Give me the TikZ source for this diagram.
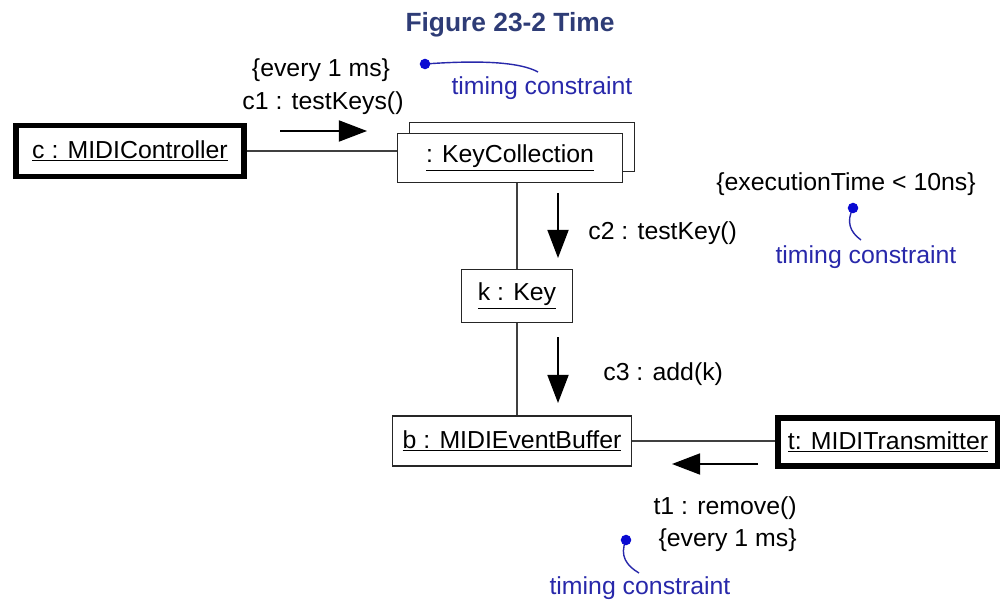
\documentclass[tikz,border=0pt]{standalone}
\usepackage{fontspec}
\setsansfont{Liberation Sans}[FakeStretch=1.01]
\newfontfamily\titlefont{Liberation Sans}
\usetikzlibrary{arrows.meta, positioning}
\definecolor{titleblue}{RGB}{46,60,118}
\definecolor{noteblue}{RGB}{40,40,170}
\definecolor{dotblue}{RGB}{10,10,210}

\begin{document}
\begin{tikzpicture}[
        x=0.02cm, y=-0.02cm,
        >={Triangle[length=16pt, width=12pt]},
        object/.style={rectangle, draw=black!85, line width=0.8pt, fill=white, minimum height=1cm, inner sep=0pt, font=\sffamily\fontsize{14}{17}\selectfont},
        actor/.style={object, draw=black, line width=3.4pt},
        msg/.style={inner sep=0pt, font=\sffamily\fontsize{14}{17}\selectfont},
        note/.style={msg, text=noteblue},
        heading/.style={inner sep=0pt, text=titleblue, font=\titlefont\bfseries\fontsize{15}{18}\selectfont},
        link/.style={draw=black!75, line width=0.8pt},
        message/.style={->, line width=0.9pt},
        tie/.style={draw=noteblue, line width=0.8pt}
    ]
    \useasboundingbox (0,0) rectangle (1000,601);

    \node[heading] (title) at (510,25) {Figure 23-2 Time};

    \node[actor, minimum width=4.58cm, minimum height=1.02cm] (mc) at (130,151) {\underline{c : MIDIController}};
    \node[object, minimum width=4.5cm, minimum height=0.98cm] (kcback) at (522,147) {};
    \node[object, minimum width=4.5cm, minimum height=0.98cm] (kc) at (510,158) {\underline{: KeyCollection}};
    \node[object, minimum width=2.22cm, minimum height=1.06cm] (key) at (517,296) {\underline{k : Key}};
    \node[object, minimum width=4.78cm] (buf) at (512,441) {\underline{b : MIDIEventBuffer}};
    \node[actor, minimum width=4.4cm, minimum height=0.96cm] (tx) at (888,442) {\underline{t: MIDITransmitter}};

    \draw[link] (mc.east) -- (mc.east -| kc.west);
    \draw[link] (key.north) -- (key.north |- kc.south);
    \draw[link] (key.south) -- (key.south |- buf.north);
    \draw[link] (buf.east) -- (buf.east -| tx.west);

    \coordinate (c1from) at (280,131);
    \coordinate (c1to) at (367,131);
    \coordinate (c2from) at (558,193);
    \coordinate (c2to) at (558,258);
    \coordinate (c3from) at (558,337);
    \coordinate (c3to) at (558,403);
    \coordinate (t1from) at (758,464);
    \coordinate (t1to) at (672,464);

    \draw[message] (c1from) -- (c1to);
    \draw[message] (c2from) -- (c2to);
    \draw[message] (c3from) -- (c3to);
    \draw[message] (t1from) -- (t1to);

    \node[msg] (c1lbl) at (323,103) {c1 : testKeys()};
    \node[msg] (c1rate) at (321,70) {\{every 1 ms\}};
    \node[msg, anchor=west] (c2lbl) at (588,233) {c2 : testKey()};
    \node[msg, anchor=west] (c3lbl) at (603,374) {c3 : add(k)};
    \node[msg, anchor=east] (t1lbl) at (797,508) {t1 : remove()};
    \node[msg, anchor=east] (t1rate) at (797,540) {\{every 1 ms\}};
    \node[msg] (c2time) at (846,184) {\{executionTime < 10ns\}};

    \node[note] (note1) at (542,88) {timing constraint};
    \node[note] (note2) at (866,257) {timing constraint};
    \node[note] (note3) at (640,588) {timing constraint};

    \coordinate (dot1) at (425,64);
    \coordinate (dot2) at (853,208);
    \coordinate (dot3) at (626,540);
    \draw[tie] (dot1) .. controls (480,60) and (520,62) .. (538,72);
    \draw[tie] (dot2) .. controls (846,222) and (850,232) .. (861,240);
    \draw[tie] (dot3) .. controls (619,556) and (627,566) .. (639,573);
    \foreach \d in {dot1, dot2, dot3}
        \fill[dotblue] (\d) circle[radius=3pt];

    \end{tikzpicture}
\end{document}
